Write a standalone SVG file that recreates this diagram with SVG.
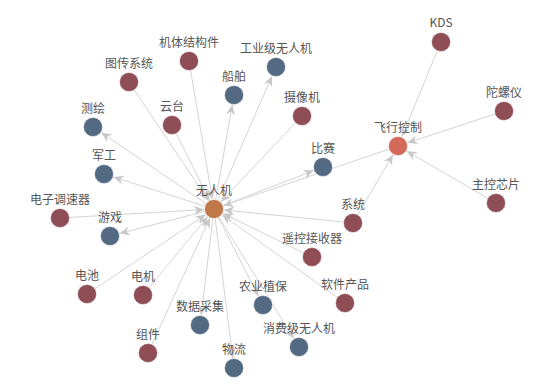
<svg xmlns="http://www.w3.org/2000/svg" width="554" height="392" viewBox="0 0 554 392">
<defs>
<marker id="arr" markerUnits="userSpaceOnUse" markerWidth="30" markerHeight="30" refX="0" refY="0" orient="auto" overflow="visible">
<path d="M-20,-4.5 L-10,0 L-20,4.5 L-17,0 Z" fill="#c8c8c8"/>
</marker>
<style>
.e{stroke:#d4d4d4;stroke-width:1;fill:none;marker-end:url(#arr)}
.r{fill:#8f4e56;stroke:#fff;stroke-width:0.5}
.b{fill:#546a83;stroke:#fff;stroke-width:0.5}
text{font-family:"Noto Sans CJK SC","Liberation Sans",sans-serif;font-size:12px;fill:#555;text-anchor:middle}
</style>
</defs>
<rect width="554" height="392" fill="#fff"/>
<g id="edges">
<line class="e" x1="214" y1="209" x2="93" y2="127"/>
<line class="e" x1="214" y1="209" x2="104" y2="174"/>
<line class="e" x1="214" y1="209" x2="234" y2="95"/>
<line class="e" x1="214" y1="209" x2="276" y2="67"/>
<line class="e" x1="214" y1="209" x2="323" y2="167"/>
<line class="e" x1="214" y1="209" x2="110" y2="236"/>
<line class="e" x1="214" y1="209" x2="200" y2="325"/>
<line class="e" x1="214" y1="209" x2="263" y2="305"/>
<line class="e" x1="214" y1="209" x2="234" y2="368"/>
<line class="e" x1="214" y1="209" x2="299" y2="347"/>
<line class="e" x1="129" y1="82" x2="214" y2="209"/>
<line class="e" x1="189" y1="61" x2="214" y2="209"/>
<line class="e" x1="172" y1="125" x2="214" y2="209"/>
<line class="e" x1="302" y1="116" x2="214" y2="209"/>
<line class="e" x1="60" y1="218" x2="214" y2="209"/>
<line class="e" x1="87" y1="294" x2="214" y2="209"/>
<line class="e" x1="143" y1="295" x2="214" y2="209"/>
<line class="e" x1="148" y1="353" x2="214" y2="209"/>
<line class="e" x1="312" y1="257" x2="214" y2="209"/>
<line class="e" x1="345" y1="303" x2="214" y2="209"/>
<line class="e" x1="353" y1="223" x2="214" y2="209"/>
<line class="e" x1="398" y1="146" x2="214" y2="209"/>
<line class="e" x1="441" y1="42" x2="398" y2="146"/>
<line class="e" x1="504" y1="111" x2="398" y2="146"/>
<line class="e" x1="496" y1="203" x2="398" y2="146"/>
<line class="e" x1="353" y1="223" x2="398" y2="146"/>
</g>
<g id="n-wurenji"><circle cx="214" cy="209" r="9.5" fill="#bf7848" stroke="#fff" stroke-width="0.5"/><text x="214" y="195">无人机</text></g>
<g id="n-feixing"><circle cx="398" cy="146" r="9.5" fill="#d4695a" stroke="#fff" stroke-width="0.5"/><text x="398" y="132">飞行控制</text></g>
<g id="n-kds"><circle class="r" cx="441" cy="42" r="9.5"/><text x="441" y="27">KDS</text></g>
<g id="n-tuoluoyi"><circle class="r" cx="504" cy="111" r="9.5"/><text x="504" y="97">陀螺仪</text></g>
<g id="n-zhukong"><circle class="r" cx="496" cy="203" r="9.5"/><text x="496" y="189">主控芯片</text></g>
<g id="n-xitong"><circle class="r" cx="353" cy="223" r="9.5"/><text x="353" y="209">系统</text></g>
<g id="n-shexiangji"><circle class="r" cx="302" cy="116" r="9.5"/><text x="302" y="102">摄像机</text></g>
<g id="n-bisai"><circle class="b" cx="323" cy="167" r="9.5"/><text x="323" y="153">比赛</text></g>
<g id="n-gongye"><circle class="b" cx="276" cy="67" r="9.5"/><text x="276" y="53">工业级无人机</text></g>
<g id="n-chuanbo"><circle class="b" cx="234" cy="95" r="9.5"/><text x="234" y="81">船舶</text></g>
<g id="n-jiti"><circle class="r" cx="189" cy="61" r="9.5"/><text x="189" y="47">机体结构件</text></g>
<g id="n-tuchuan"><circle class="r" cx="129" cy="82" r="9.5"/><text x="129" y="68">图传系统</text></g>
<g id="n-yuntai"><circle class="r" cx="172" cy="125" r="9.5"/><text x="172" y="111">云台</text></g>
<g id="n-cehui"><circle class="b" cx="93" cy="127" r="9.5"/><text x="93" y="113">测绘</text></g>
<g id="n-jungong"><circle class="b" cx="104" cy="174" r="9.5"/><text x="104" y="160">军工</text></g>
<g id="n-dianzi"><circle class="r" cx="60" cy="218" r="9.5"/><text x="60" y="204">电子调速器</text></g>
<g id="n-youxi"><circle class="b" cx="110" cy="236" r="9.5"/><text x="110" y="222">游戏</text></g>
<g id="n-dianchi"><circle class="r" cx="87" cy="294" r="9.5"/><text x="87" y="280">电池</text></g>
<g id="n-dianji"><circle class="r" cx="143" cy="295" r="9.5"/><text x="143" y="281">电机</text></g>
<g id="n-zujian"><circle class="r" cx="148" cy="353" r="9.5"/><text x="148" y="339">组件</text></g>
<g id="n-shuju"><circle class="b" cx="200" cy="325" r="9.5"/><text x="200" y="311">数据采集</text></g>
<g id="n-wuliu"><circle class="b" cx="234" cy="368" r="9.5"/><text x="234" y="354">物流</text></g>
<g id="n-nongye"><circle class="b" cx="263" cy="305" r="9.5"/><text x="263" y="291">农业植保</text></g>
<g id="n-xiaofei"><circle class="b" cx="299" cy="347" r="9.5"/><text x="299" y="333">消费级无人机</text></g>
<g id="n-yaokong"><circle class="r" cx="312" cy="257" r="9.5"/><text x="312" y="243">遥控接收器</text></g>
<g id="n-ruanjian"><circle class="r" cx="345" cy="303" r="9.5"/><text x="345" y="289">软件产品</text></g>
</svg>
